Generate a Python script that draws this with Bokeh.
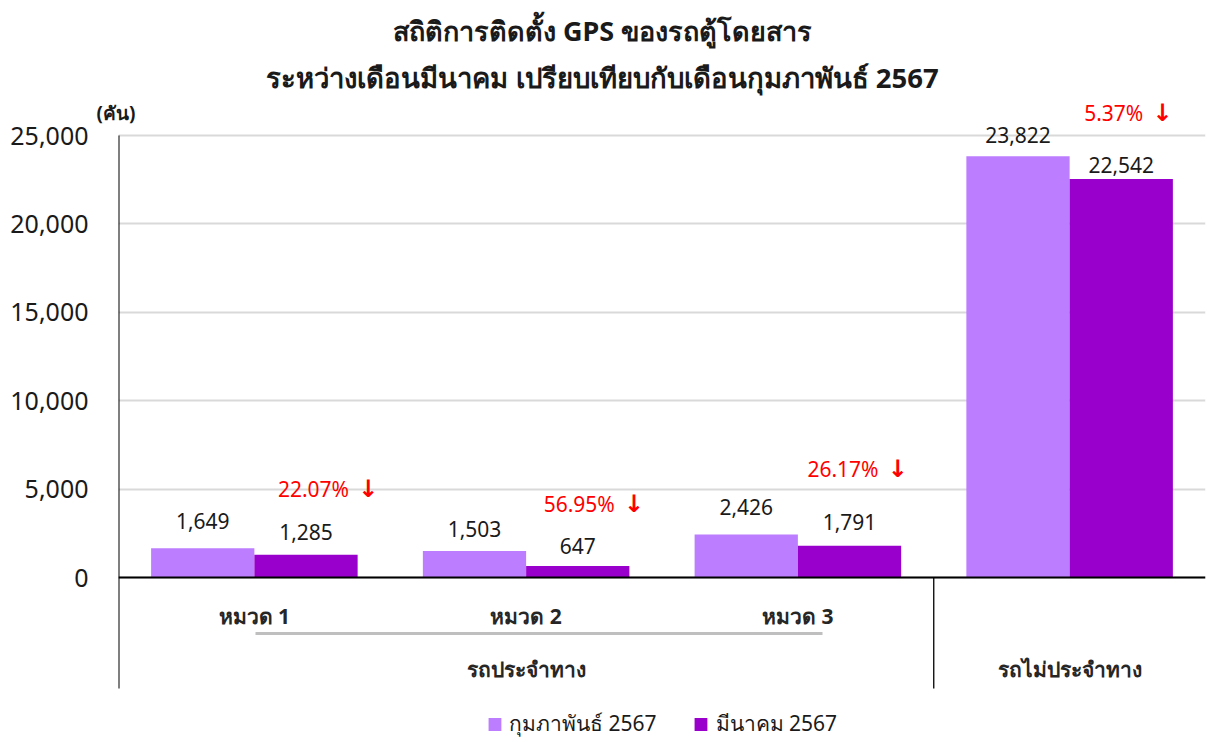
from bokeh.plotting import figure
from bokeh.models import (FactorRange, Range1d, FixedTicker, NumeralTickFormatter,
                          Label, LabelSet, ColumnDataSource, Legend, LegendItem,
                          LinearAxis)
from bokeh.transform import dodge
from bokeh.core.properties import value
from bokeh.embed import file_html
from bokeh.resources import INLINE

# ---------------- data ----------------
categories = ["หมวด 1", "หมวด 2", "หมวด 3", "รถไม่ประจำทาง"]
sub_labels = ["หมวด 1", "หมวด 2", "หมวด 3"]
group_labels = ["รถประจำทาง", "รถไม่ประจำทาง"]
series_names = ["กุมภาพันธ์ 2567", "มีนาคม 2567"]
feb_2567 = [1649, 1503, 2426, 23822]
mar_2567 = [1285, 647, 1791, 22542]
pct_change = ["22.07%", "56.95%", "26.17%", "5.37%"]
y_ticks = [0, 5000, 10000, 15000, 20000, 25000]
title_lines = ["สถิติการติดตั้ง GPS ของรถตู้โดยสาร",
               "ระหว่างเดือนมีนาคม เปรียบเทียบกับเดือนกุมภาพันธ์ 2567"]
unit_label = "(คัน)"
unit_tick = 26250

# ---------------- layout helpers (pixels, page == canvas) ----------------
W, H = 1206, 741
LEFT, RIGHT = 118, 1
ZERO_PY, TOP_TICK_PY = 577, 135          # page y of 0 and of 25,000
UNITS_PER_PX = 25000 / (ZERO_PY - TOP_TICK_PY)
Y_MAX = ZERO_PY * UNITS_PER_PX
Y_MIN = -(H - ZERO_PY) * UNITS_PER_PX
FW = (W - LEFT - RIGHT) / len(categories)


def y_at(page_y):
    return (ZERO_PY - page_y) * UNITS_PER_PX


def x_at(page_x):
    return (page_x - LEFT) / FW


LIGHT = "#BD7DFF"
DARK = "#9900CC"
TXT = "#1a1a1a"
FONT = "Noto Sans"

p = figure(width=W, height=H, output_backend="svg", toolbar_location=None,
           x_range=FactorRange(factors=categories, range_padding=0),
           y_range=Range1d(Y_MIN, Y_MAX), x_axis_location=None,
           min_border_left=LEFT, min_border_right=RIGHT,
           min_border_top=0, min_border_bottom=0)
p.outline_line_color = None
p.background_fill_color = "white"
p.border_fill_color = "white"


def style_axis(a, size):
    a.axis_line_color = None
    a.major_tick_line_color = None
    a.minor_tick_line_color = None
    a.major_tick_in = 0
    a.major_tick_out = 0
    a.major_label_text_font = FONT
    a.major_label_text_font_size = size
    a.major_label_text_color = TXT


# inner axis: only the unit caption "(คัน)" above the value axis
unit_ax = p.yaxis[0]
unit_ax.ticker = FixedTicker(ticks=[unit_tick])
unit_ax.major_label_overrides = {unit_tick: unit_label}
unit_ax.major_label_standoff = -17
style_axis(unit_ax, "19px")
unit_ax.major_label_text_font_style = "bold"

# outer axis: the value ticks
val_ax = LinearAxis(ticker=FixedTicker(ticks=y_ticks),
                    formatter=NumeralTickFormatter(format="0,0"),
                    major_label_standoff=5)
style_axis(val_ax, "25px")
p.add_layout(val_ax, "left")

p.xgrid.visible = False
p.ygrid.ticker = FixedTicker(ticks=y_ticks)
p.ygrid.grid_line_color = "#d9d9d9"
p.ygrid.grid_line_width = 2

src = ColumnDataSource(dict(
    cat=categories, feb=feb_2567, mar=mar_2567,
    feb_txt=[f"{v:,}" for v in feb_2567],
    mar_txt=[f"{v:,}" for v in mar_2567],
    pct=pct_change,
    arrow=["↓"] * len(categories),
    top=[max(a, b) for a, b in zip(feb_2567, mar_2567)],
))
# label offsets in pixels (placement only)
src.data["feb_off"] = [27, 22, 28, 21]
src.data["mar_off"] = [23, 20, 24, 14]
src.data["pct_off"] = [59, 47, 66, 43]
src.data["pct_x"] = [43, 37, 29, 22]
src.data["arr_x"] = [52, 46, 38, 31]

r1 = p.vbar(x=dodge("cat", -0.19, range=p.x_range), top="feb", width=0.38,
            source=src, fill_color=LIGHT, line_color=None)
r2 = p.vbar(x=dodge("cat", 0.19, range=p.x_range), top="mar", width=0.38,
            source=src, fill_color=DARK, line_color=None)

# frame lines: zero line, left axis line, separator
p.segment(x0=[0, 0, 3], y0=[0, 25000, 0], x1=[len(categories), 0, 3],
          y1=[0, y_at(688), y_at(688)], line_color="black", line_width=[2, 2, 1.3])

# value labels
for field, txt, off, dx in [("feb", "feb_txt", "feb_off", -0.19),
                            ("mar", "mar_txt", "mar_off", 0.19)]:
    p.add_layout(LabelSet(x=dodge("cat", dx, range=p.x_range), y=field, text=txt,
                          y_offset=off, source=src, text_align="center",
                          text_baseline="middle", text_font=value(FONT),
                          text_font_size="21px", text_color=TXT))

# percentage change labels
p.add_layout(LabelSet(x=dodge("cat", 0.19, range=p.x_range), y="top", text="pct",
                      x_offset="pct_x", y_offset="pct_off", source=src,
                      text_align="right", text_baseline="middle",
                      text_font=value(FONT), text_font_size="21px",
                      text_color="#ff0000"))
p.add_layout(LabelSet(x=dodge("cat", 0.19, range=p.x_range), y="top", text="arrow",
                      x_offset="arr_x", y_offset="pct_off", source=src,
                      text_align="left", text_baseline="middle",
                      text_font=value("DejaVu Sans"), text_font_size="24px",
                      text_font_style="bold", text_color="#ff0000"))

# category labels
p.text(x=sub_labels, y=[y_at(615)] * len(sub_labels), text=sub_labels,
       text_align="center", text_baseline="middle", text_font=value(FONT),
       text_font_size="21px", text_font_style="bold", text_color="#262626")
p.segment(x0=[x_at(255)], y0=[y_at(633)], x1=[x_at(822)], y1=[y_at(633)],
          line_color="#bfbfbf", line_width=3)
p.text(x=[1.5, 3.5], y=[y_at(668)] * 2, text=group_labels,
       text_align="center", text_baseline="middle", text_font=value(FONT),
       text_font_size="21px", text_font_style="bold", text_color="#262626")

# title
for line, py, fs in zip(title_lines, [30, 77], ["27px", "27.5px"]):
    p.add_layout(Label(x=x_at(602), y=y_at(py), text=line, text_align="center",
                       text_baseline="middle", text_font=FONT,
                       text_font_size=fs, text_font_style="bold",
                       text_color=TXT))

legend = Legend(items=[LegendItem(label=series_names[0], renderers=[r1]),
                       LegendItem(label=series_names[1], renderers=[r2])],
                location="bottom_center", orientation="horizontal",
                glyph_width=16, glyph_height=16, label_standoff=7, spacing=36,
                padding=0, margin=1, border_line_color=None,
                background_fill_alpha=0, label_text_font=FONT,
                label_text_font_size="21px", label_text_color=TXT)
p.add_layout(legend)

open("out.html", "w").write(file_html(p, INLINE))
